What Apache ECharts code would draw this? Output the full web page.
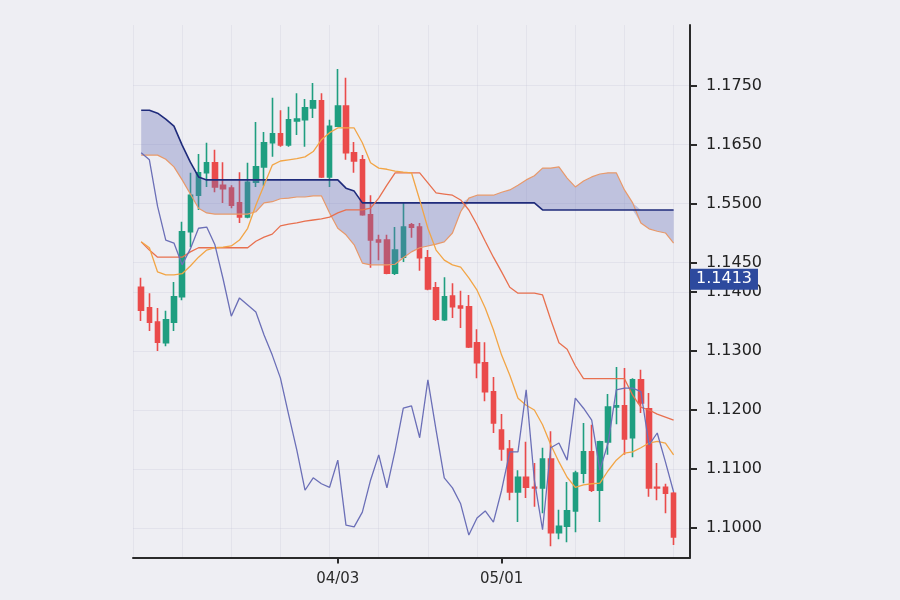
<!DOCTYPE html>
<html>
<head>
<meta charset="utf-8">
<script src="https://cdn.jsdelivr.net/npm/echarts@6/dist/echarts.min.js"></script>
<style>
html,body{margin:0;padding:0;background:#eeeef3;}
#chart{width:900px;height:600px;}
</style>
</head>
<body>
<div id="chart"></div>
<script>
// ---- categories (trading days) ----
const dates = ['02/27',
'02/28','03/01','03/02','03/03','03/06','03/07','03/08','03/09','03/10','03/13',
'03/14','03/15','03/16','03/17','03/20','03/21','03/22','03/23','03/24','03/27',
'03/28','03/29','03/30','03/31','04/03','04/04','04/05','04/06','04/07','04/10',
'04/11','04/12','04/13','04/14','04/17','04/18','04/19','04/20','04/21','04/24',
'04/25','04/26','04/27','04/28','05/01','05/02','05/03','05/04','05/05','05/08',
'05/09','05/10','05/11','05/12','05/15','05/16','05/17','05/18','05/19','05/22',
'05/23','05/24','05/25','05/26','05/29','05/30','05/31','06/01'];
const shownDates = ['04/03','05/01'];

// ---- candles ----
const openVals = [1.1408,1.1373,1.1349,1.1314,1.1349,1.1392,1.1502,1.1564,1.1602,1.1619,
1.1581,1.1576,1.1551,1.1527,1.1586,1.1612,1.1653,1.1668,1.1649,1.1690,
1.1692,1.1712,1.1724,1.1595,1.1681,1.1715,1.1636,1.1624,1.1531,1.1488,
1.1488,1.1432,1.1459,1.1514,1.1510,1.1458,1.1407,1.1353,1.1393,1.1376,
1.1375,1.1314,1.1280,1.1231,1.1166,1.1134,1.1061,1.1086,1.1069,1.1068,
1.1117,1.0992,1.1003,1.1029,1.1093,1.1129,1.1064,1.1146,1.1205,1.1207,
1.1153,1.1251,1.1202,1.1069,1.1069,1.1059];
const closeVals = [1.1369,1.1349,1.1315,1.1353,1.1392,1.1502,1.1564,1.1602,1.1619,1.1578,
1.1575,1.1547,1.1527,1.1586,1.1612,1.1653,1.1668,1.1649,1.1692,1.1693,
1.1712,1.1724,1.1595,1.1681,1.1715,1.1636,1.1622,1.1531,1.1488,1.1485,
1.1432,1.1471,1.1510,1.1510,1.1458,1.1405,1.1354,1.1392,1.1375,1.1373,
1.1307,1.1280,1.1231,1.1178,1.1134,1.1061,1.1086,1.1069,1.1068,1.1117,
1.0992,1.1003,1.1029,1.1093,1.1129,1.1064,1.1146,1.1205,1.1207,1.1151,
1.1251,1.1212,1.1068,1.1068,1.1059,1.0985];
const lowVals = [1.1351,1.1334,1.1300,1.1308,1.1334,1.1386,1.1476,1.1539,1.1578,1.1569,
1.1551,1.1542,1.1517,1.1525,1.1578,1.1580,1.1629,1.1646,1.1646,1.1666,
1.1646,1.1695,1.1593,1.1578,1.1680,1.1624,1.1602,1.1529,1.1441,1.1454,
1.1430,1.1429,1.1451,1.1492,1.1436,1.1403,1.1351,1.1351,1.1356,1.1339,
1.1305,1.1254,1.1215,1.1161,1.1114,1.1047,1.1010,1.1051,1.1036,1.1025,
1.0969,1.0981,1.0976,1.0993,1.1076,1.1061,1.1010,1.1124,1.1176,1.1124,
1.1120,1.1195,1.1053,1.1047,1.1025,1.0971];
const highVals = [1.1424,1.1398,1.1373,1.1368,1.1417,1.1519,1.1602,1.1634,1.1653,1.1641,
1.1620,1.1581,1.1603,1.1619,1.1688,1.1671,1.1729,1.1708,1.1714,1.1737,
1.1727,1.1754,1.1737,1.1692,1.1778,1.1763,1.1654,1.1632,1.1564,1.1497,
1.1497,1.1510,1.1551,1.1517,1.1517,1.1471,1.1417,1.1425,1.1415,1.1402,
1.1395,1.1337,1.1315,1.1256,1.1193,1.1149,1.1098,1.1146,1.1110,1.1136,
1.1164,1.1031,1.1078,1.1097,1.1178,1.1175,1.1148,1.1227,1.1273,1.1271,
1.1254,1.1268,1.1229,1.1110,1.1075,1.1061];

// ---- ichimoku lines ----
const spanA = [1.1708,1.1708,1.1703,1.1693,1.1681,1.1649,1.1620,1.1595,1.1590,1.1590,
1.1590,1.1590,1.1590,1.1590,1.1590,1.1590,1.1590,1.1590,1.1590,1.1590,
1.1590,1.1590,1.1590,1.1590,1.1590,1.1576,1.1571,1.1551,1.1551,1.1551,
1.1551,1.1551,1.1551,1.1551,1.1551,1.1551,1.1551,1.1551,1.1551,1.1551,
1.1551,1.1551,1.1551,1.1551,1.1551,1.1551,1.1551,1.1551,1.1551,1.1539,
1.1539,1.1539,1.1539,1.1539,1.1539,1.1539,1.1539,1.1539,1.1539,1.1539,
1.1539,1.1539,1.1539,1.1539,1.1539,1.1539];
const spanB = [1.1632,1.1632,1.1632,1.1625,1.1612,1.1590,1.1566,1.1542,1.1534,1.1532,
1.1532,1.1532,1.1532,1.1532,1.1536,1.1551,1.1553,1.1558,1.1559,1.1561,
1.1561,1.1563,1.1563,1.1534,1.1508,1.1497,1.1480,1.1449,1.1446,1.1446,
1.1446,1.1447,1.1458,1.1468,1.1475,1.1478,1.1481,1.1485,1.1500,1.1536,
1.1559,1.1564,1.1564,1.1564,1.1569,1.1573,1.1581,1.1590,1.1597,1.1610,
1.1610,1.1612,1.1593,1.1578,1.1588,1.1595,1.1600,1.1602,1.1602,1.1573,
1.1551,1.1517,1.1507,1.1503,1.1500,1.1483];
const tenkan = [1.1485,1.1475,1.1434,1.1429,1.1429,1.1431,1.1444,1.1459,1.1471,1.1475,
1.1476,1.1478,1.1488,1.1508,1.1547,1.1581,1.1615,1.1622,1.1624,1.1626,
1.1629,1.1638,1.1658,1.1670,1.1678,1.1678,1.1678,1.1653,1.1619,1.1610,
1.1608,1.1605,1.1603,1.1602,1.1556,1.1508,1.1471,1.1454,1.1446,1.1442,
1.1424,1.1403,1.1373,1.1336,1.1293,1.1259,1.1220,1.1208,1.1200,1.1175,
1.1141,1.1112,1.1086,1.1069,1.1073,1.1075,1.1076,1.1097,1.1115,1.1127,
1.1129,1.1136,1.1144,1.1147,1.1144,1.1124];
const kijun = [1.1485,1.1471,1.1459,1.1459,1.1459,1.1459,1.1468,1.1475,1.1475,1.1475,
1.1475,1.1475,1.1475,1.1475,1.1486,1.1493,1.1498,1.1512,1.1515,1.1517,
1.1520,1.1522,1.1524,1.1527,1.1534,1.1539,1.1539,1.1539,1.1542,1.1559,
1.1581,1.1602,1.1602,1.1602,1.1602,1.1585,1.1568,1.1566,1.1564,1.1556,
1.1539,1.1514,1.1486,1.1459,1.1434,1.1408,1.1398,1.1398,1.1398,1.1395,
1.1353,1.1314,1.1303,1.1275,1.1253,1.1253,1.1253,1.1253,1.1253,1.1253,
1.1225,1.1205,1.1200,1.1193,1.1188,1.1183];
const chikou = [1.1636,1.1624,1.1545,1.1488,1.1483,1.1446,1.1473,1.1508,1.1510,1.1480,
1.1422,1.1359,1.1390,1.1378,1.1366,1.1327,1.1293,1.1254,1.1192,1.1132,
1.1064,1.1085,1.1075,1.1069,1.1115,1.1005,1.1002,1.1027,1.1081,1.1124,
1.1068,1.1131,1.1203,1.1207,1.1153,1.1251,1.1166,1.1085,1.1068,1.1041,
1.0988,1.1017,1.1029,1.1010,1.1064,1.1129,1.1129,1.1234,1.1081,1.0997,
1.1136,1.1144,1.1115,1.1220,1.1203,1.1183,1.1098,1.1144,1.1234,1.1237,
1.1237,1.1231,1.1141,1.1161,1.1112,1.1061];

// ---- y tick labels ----
const tickValues = [1.175,1.165,1.155,1.145,1.14,1.13,1.12,1.11,1.10];
const tickLabels = ['1.1750','1.1650','1.5500','1.1450','1.1400','1.1300','1.1200','1.1100','1.1000'];
const lastPrice = 1.1413;
const lastPriceLabel = '1.1413';

// ---- build series data (one empty slot before, two after) ----
const pad = arr => ['-'].concat(arr, ['-', '-']);
const candleData = openVals.map((o, i) => [i + 1, o, closeVals[i], lowVals[i], highVals[i]]);
const cloudBase = pad(spanA.map((a, i) => Math.min(a, spanB[i])));
const cloudDiff = pad(spanA.map((a, i) => Math.abs(a - spanB[i])));
const lastPriceLine = dates.map(() => lastPrice);

const chart = echarts.init(document.getElementById('chart'), null, {renderer: 'canvas'});
const FONT = 'DejaVu Sans';
const showDate = (idx, val) => shownDates.indexOf(val) >= 0;

chart.setOption({
  animation: false,
  backgroundColor: '#eeeef3',
  grid: {left: 133, right: 210, top: 25, bottom: 42.5, containLabel: false},
  xAxis: {
    type: 'category',
    data: dates,
    boundaryGap: false,
    axisLine: {show: true, lineStyle: {color: '#2a2a2a', width: 2}},
    axisTick: {show: true, interval: showDate, length: 6, lineStyle: {color: '#2a2a2a', width: 2}},
    axisLabel: {interval: showDate, margin: 14, color: '#2a2a2a', fontSize: 15, fontFamily: FONT},
    splitLine: {show: true, interval: 5, lineStyle: {color: 'rgba(190,190,210,0.22)', width: 1}}
  },
  yAxis: {
    type: 'value',
    position: 'right',
    min: 1.095,
    max: 1.18525,
    interval: 0.005,
    axisLine: {show: true, lineStyle: {color: '#2a2a2a', width: 2}},
    axisTick: {show: true, customValues: tickValues, length: 7, lineStyle: {color: '#2a2a2a', width: 2}},
    axisLabel: {
      customValues: tickValues,
      margin: 16,
      color: '#222',
      fontSize: 16,
      fontFamily: FONT,
      formatter: v => {
        const k = tickValues.findIndex(t => Math.abs(t - v) < 1e-6);
        return k >= 0 ? tickLabels[k] : '';
      }
    },
    splitLine: {show: true, lineStyle: {color: 'rgba(190,190,210,0.25)', width: 1}}
  },
  series: [
    {
      name: 'price',
      type: 'candlestick',
      data: candleData,
      encode: {x: 0, y: [1, 2, 3, 4]},
      barWidth: 5,
      z: 2,
      itemStyle: {
        color: '#1f9e80', color0: '#ea4b4b',
        borderColor: '#1f9e80', borderColor0: '#ea4b4b', borderWidth: 1.6
      }
    },
    {
      name: 'cloudBase', type: 'line', data: cloudBase, stack: 'cloud',
      symbol: 'none', lineStyle: {opacity: 0}, z: 3, silent: true
    },
    {
      name: 'cloud', type: 'line', data: cloudDiff, stack: 'cloud',
      symbol: 'none', lineStyle: {opacity: 0}, z: 3, silent: true,
      areaStyle: {color: 'rgba(106,114,185,0.5)'}
    },
    {name: 'spanB', type: 'line', data: pad(spanB), symbol: 'none', z: 4,
      lineStyle: {color: '#e8996a', width: 1.2}},
    {name: 'spanA', type: 'line', data: pad(spanA), symbol: 'none', z: 4,
      lineStyle: {color: '#1f2b7b', width: 1.6}},
    {name: 'kijun', type: 'line', data: pad(kijun), symbol: 'none', z: 5,
      lineStyle: {color: '#e8704f', width: 1.3}},
    {name: 'tenkan', type: 'line', data: pad(tenkan), symbol: 'none', z: 5,
      lineStyle: {color: '#f2a546', width: 1.3}},
    {name: 'chikou', type: 'line', data: pad(chikou), symbol: 'none', z: 5,
      lineStyle: {color: '#6b6fb7', width: 1.3}},
    {
      name: 'last', type: 'line', data: lastPriceLine, symbol: 'none', silent: true, z: 10,
      lineStyle: {width: 0, color: 'rgba(0,0,0,0)'},
      endLabel: {
        show: true, formatter: lastPriceLabel, distance: 0, offset: [0, -5],
        color: '#fff', fontSize: 16, fontFamily: FONT,
        backgroundColor: '#2d4a9e', padding: [3, 6, 2, 6]
      }
    }
  ]
});
</script>
</body>
</html>
